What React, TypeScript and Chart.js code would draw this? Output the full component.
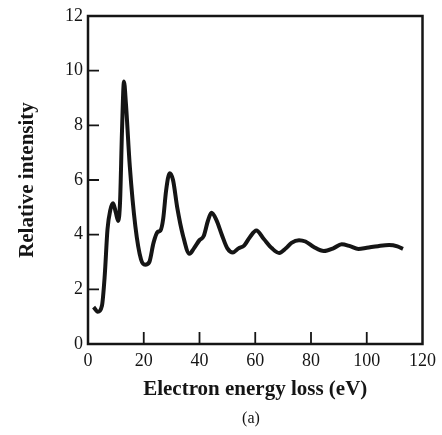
import React, { useEffect, useRef } from "react";
import { Chart, registerables } from "chart.js";

Chart.register(...registerables);

const energyLoss = [2, 3.5, 5, 6, 7, 8, 9, 10, 10.8, 11.5, 12.2, 12.9, 13.6, 15, 17, 19, 20.5, 22, 23.5, 25, 26, 27, 28, 29.3, 30.5, 32, 34, 36.4, 38, 40, 41.5, 43, 44.3, 46, 48, 50, 52, 54, 56, 58, 60.4, 63, 66, 68.6, 71, 73, 75.7, 78, 81, 84.6, 88, 91, 94, 97, 100, 104, 108, 111, 113];
const intensity = [1.35, 1.18, 1.4, 2.5, 4.2, 4.9, 5.15, 4.8, 4.5, 5.2, 7.8, 9.6, 8.8, 6.5, 4.3, 3.1, 2.9, 3.0, 3.7, 4.1, 4.15, 4.6, 5.6, 6.25, 6.0, 5.0, 4.0, 3.3, 3.5, 3.8, 3.95, 4.5, 4.8, 4.55, 4.0, 3.5, 3.35, 3.5, 3.6, 3.9, 4.15, 3.85, 3.5, 3.33, 3.5, 3.7, 3.8, 3.75, 3.55, 3.4, 3.5, 3.65, 3.58, 3.48, 3.52, 3.58, 3.62, 3.57, 3.48];

const xTicks = [0, 20, 40, 60, 80, 100, 120];
const yTicks = [0, 2, 4, 6, 8, 10, 12];
const xTitle = "Electron energy loss (eV)";
const yTitle = "Relative intensity";
const panelLabel = "(a)";

const INK = "#151515";
const FONT = "'Liberation Serif', 'DejaVu Serif', serif";

const framePlugin = {
  id: "frame",
  afterDatasetsDraw(chart: any) {
    const { ctx, chartArea, scales } = chart;
    const { left, right, top, bottom } = chartArea;
    ctx.save();
    ctx.strokeStyle = INK;
    ctx.lineWidth = 2.5;
    ctx.strokeRect(left, top, right - left, bottom - top);
    ctx.lineWidth = 1.8;
    ctx.beginPath();
    yTicks.slice(1, -1).forEach((v) => {
      const y = scales.y.getPixelForValue(v);
      ctx.moveTo(left, y);
      ctx.lineTo(left + 11, y);
    });
    xTicks.slice(1, -1).forEach((v) => {
      const x = scales.x.getPixelForValue(v);
      ctx.moveTo(x, bottom);
      ctx.lineTo(x, bottom - 12);
    });
    ctx.stroke();
    ctx.fillStyle = INK;
    ctx.font = `16px ${FONT}`;
    ctx.textAlign = "center";
    ctx.textBaseline = "middle";
    ctx.fillText(panelLabel, 251, 419);
    ctx.restore();
  },
};

export default function App() {
  const ref = useRef<HTMLCanvasElement | null>(null);
  useEffect(() => {
    if (!ref.current) return;
    const chart = new Chart(ref.current, {
      type: "line",
      data: {
        datasets: [
          {
            data: energyLoss.map((x, i) => ({ x, y: intensity[i] })),
            borderColor: INK,
            borderWidth: 4,
            pointRadius: 0,
            fill: false,
            cubicInterpolationMode: "monotone",
          },
        ],
      },
      options: {
        animation: false,
        responsive: true,
        maintainAspectRatio: false,
        layout: { padding: { left: 0, top: 16, right: 17, bottom: 0 } },
        plugins: { legend: { display: false }, tooltip: { enabled: false } },
        scales: {
          x: {
            type: "linear",
            min: 0,
            max: 120,
            afterFit: (s: any) => {
              s.height = 91;
            },
            grid: { display: false, drawTicks: false },
            border: { display: false },
            ticks: {
              stepSize: 20,
              padding: 6,
              color: INK,
              font: { family: FONT, size: 18 },
              maxRotation: 0,
              autoSkip: false,
            },
            title: {
              display: true,
              text: xTitle,
              color: INK,
              font: { family: FONT, size: 21, weight: "bold" },
              padding: { top: 0, bottom: 33 },
            },
          },
          y: {
            min: 0,
            max: 12,
            afterFit: (s: any) => {
              s.width = 88;
            },
            grid: { display: false, drawTicks: false },
            border: { display: false },
            ticks: {
              stepSize: 2,
              padding: 5,
              color: INK,
              font: { family: FONT, size: 18 },
            },
            title: {
              display: true,
              text: yTitle,
              color: INK,
              font: { family: FONT, size: 21, weight: "bold" },
              padding: { top: 15, bottom: 0 },
            },
          },
        },
      },
      plugins: [framePlugin],
    });
    return () => chart.destroy();
  }, []);
  return (
    <div style={{ position: "absolute", left: 0, top: 0, width: 442, height: 435, background: "#fff" }}>
      <canvas ref={ref} />
    </div>
  );
}
